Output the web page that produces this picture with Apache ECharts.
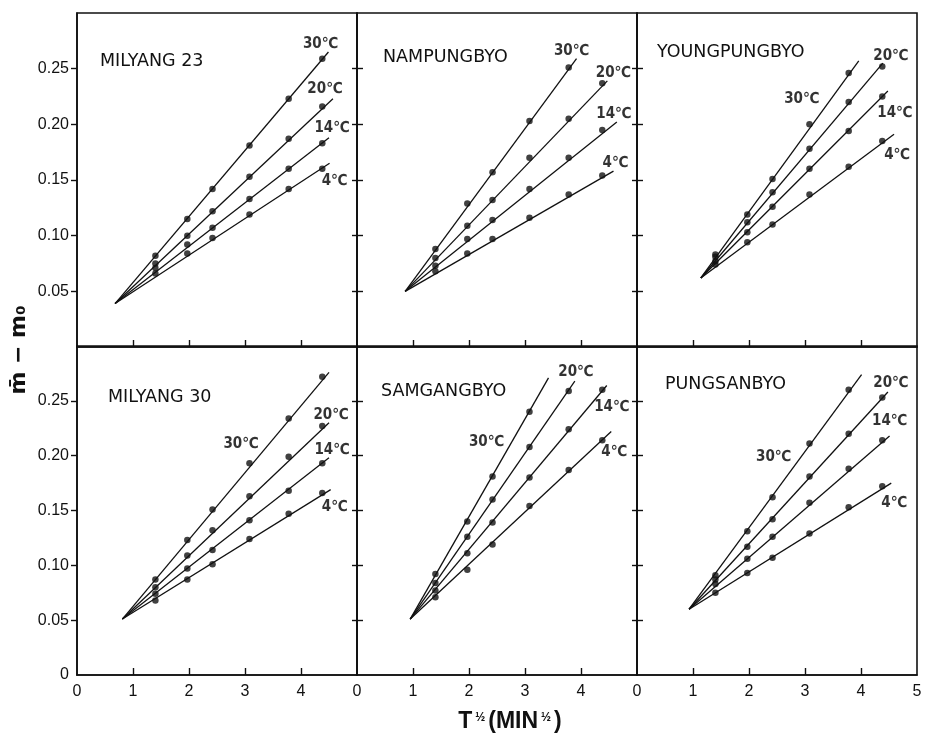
<!DOCTYPE html>
<html><head><meta charset="utf-8">
<script src="https://cdn.jsdelivr.net/npm/echarts@6/dist/echarts.min.js"></script>
<style>html,body{margin:0;padding:0;background:#fff}#c{width:926px;height:745px}</style>
</head><body><div id="c"></div>
<script>
// ---- data ----
const panelNames = ['MILYANG 23', 'NAMPUNGBYO', 'YOUNGPUNGBYO', 'MILYANG 30', 'SAMGANGBYO', 'PUNGSANBYO'];
const tempLabels = ['30℃', '20℃', '14℃', '4℃'];
const xPoints = [1.40, 1.97, 2.42, 3.08, 3.78, 4.38];          // T^1/2 (min^1/2)
const yTickValues = [0.05, 0.10, 0.15, 0.20, 0.25];
const xTickValues = [1, 2, 3, 4];
const xLabelValues = [0, 1, 2, 3, 4];
const xLabelValuesLast = [0, 1, 2, 3, 4, 5];

// convergence points of the fitted lines [x, y]
const milyang23Origin = [0.68, 0.039];
const nampungbyoOrigin = [0.86, 0.050];
const youngpungbyoOrigin = [1.14, 0.062];
const milyang30Origin = [0.81, 0.051];
const samgangbyoOrigin = [0.95, 0.051];
const pungsanbyoOrigin = [0.93, 0.060];

// measured points, rows: 30, 20, 14, 4 °C
const milyang23Y = [
  [0.082, 0.115, 0.142, 0.181, 0.223, 0.259],
  [0.075, 0.100, 0.122, 0.153, 0.187, 0.216],
  [0.071, 0.092, 0.107, 0.133, 0.160, 0.183],
  [0.066, 0.084, 0.098, 0.119, 0.142, 0.160]];
const nampungbyoY = [
  [0.088, 0.129, 0.157, 0.203, 0.251, null],
  [0.080, 0.109, 0.132, 0.170, 0.205, 0.237],
  [0.073, 0.097, 0.114, 0.142, 0.170, 0.195],
  [0.068, 0.084, 0.097, 0.116, 0.137, 0.154]];
const youngpungbyoY = [
  [0.083, 0.119, 0.151, 0.200, 0.246, null],
  [0.081, 0.112, 0.139, 0.178, 0.220, 0.252],
  [0.077, 0.103, 0.126, 0.160, 0.194, 0.225],
  [0.074, 0.094, 0.110, 0.137, 0.162, 0.185]];
const milyang30Y = [
  [0.087, 0.123, 0.151, 0.193, 0.234, 0.272],
  [0.080, 0.109, 0.132, 0.163, 0.199, 0.227],
  [0.074, 0.097, 0.114, 0.141, 0.168, 0.193],
  [0.068, 0.087, 0.101, 0.124, 0.147, 0.166]];
const samgangbyoY = [
  [0.092, 0.140, 0.181, 0.240, null, null],
  [0.084, 0.126, 0.160, 0.208, 0.259, null],
  [0.077, 0.111, 0.139, 0.180, 0.224, 0.260],
  [0.071, 0.096, 0.119, 0.154, 0.187, 0.214]];
const pungsanbyoY = [
  [0.091, 0.131, 0.162, 0.211, 0.260, null],
  [0.087, 0.117, 0.142, 0.181, 0.220, 0.253],
  [0.083, 0.106, 0.126, 0.157, 0.188, 0.214],
  [0.075, 0.093, 0.107, 0.129, 0.153, 0.172]];

// end points of the fitted lines [x, y]
const milyang23End = [[4.49, 0.265], [4.57, 0.223], [4.50, 0.188], [4.51, 0.165]];
const nampungbyoEnd = [[3.92, 0.259], [4.47, 0.239], [4.64, 0.202], [4.58, 0.158]];
const youngpungbyoEnd = [[3.96, 0.257], [4.39, 0.255], [4.48, 0.230], [4.59, 0.191]];
const milyang30End = [[4.50, 0.276], [4.50, 0.230], [4.50, 0.198], [4.53, 0.169]];
const samgangbyoEnd = [[3.42, 0.271], [3.89, 0.268], [4.46, 0.264], [4.54, 0.222]];
const pungsanbyoEnd = [[4.01, 0.274], [4.48, 0.258], [4.51, 0.218], [4.54, 0.175]];

// ---- layout / style ----
const origins = [milyang23Origin, nampungbyoOrigin, youngpungbyoOrigin, milyang30Origin, samgangbyoOrigin, pungsanbyoOrigin];
const pointsY = [milyang23Y, nampungbyoY, youngpungbyoY, milyang30Y, samgangbyoY, pungsanbyoY];
const ends = [milyang23End, nampungbyoEnd, youngpungbyoEnd, milyang30End, samgangbyoEnd, pungsanbyoEnd];

const gridPos = [
  {left: 77, top: 13, width: 280, height: 334},
  {left: 357, top: 13, width: 280, height: 334},
  {left: 637, top: 13, width: 280, height: 334},
  {left: 77, top: 346, width: 280, height: 329},
  {left: 357, top: 346, width: 280, height: 329},
  {left: 637, top: 346, width: 280, height: 329}];
const titlePos = [[100, 52], [383, 48], [657, 43], [108, 388], [381, 382], [665, 375]];
const labelOffsets = [
  [[-8, -8], [-8, -10], [3, -10], [5, 18]],
  [[-5, -8], [6, -8], [-3, -8], [2, -8]],
  [[-57, 38], [8, -7], [7, 22], [3, 21]],
  [[-88, 72], [2, -8], [3, -8], [4, 17]],
  [[-62, 64], [1, -9], [5, 22], [3, 21]],
  [[-88, 83], [3, -9], [0, -15], [3, 20]]];

const black = '#111';
const grids = [], xAxes = [], yAxes = [], series = [], titles = [];
for (let i = 0; i < 6; i++) {
  grids.push(Object.assign({show: true, borderColor: black, borderWidth: 1.6, backgroundColor: 'transparent'}, gridPos[i]));
  titles.push({text: panelNames[i], left: titlePos[i][0], top: titlePos[i][1], padding: 0,
    textStyle: {fontFamily: 'DejaVu Sans', fontSize: 17.5, fontWeight: 'normal', color: black}});
  const bottomRow = i >= 3;
  const leftCol = i % 3 === 0;
  xAxes.push({type: 'value', gridIndex: i, min: 0, max: 5, interval: 1,
    axisLine: {show: true, lineStyle: {color: black, width: 1.6}},
    axisTick: {show: true, inside: true, length: 7, customValues: xTickValues, lineStyle: {color: black, width: 1.4}},
    splitLine: {show: false},
    axisLabel: {show: bottomRow, customValues: i === 5 ? xLabelValuesLast : xLabelValues, margin: 9,
      fontFamily: 'Liberation Sans Narrow, Liberation Sans', fontSize: 16, color: black}});
  yAxes.push({type: 'value', gridIndex: i, min: 0, max: 0.30, interval: 0.05,
    axisLine: {show: true, lineStyle: {color: black, width: 1.6}},
    axisTick: {show: true, inside: !leftCol, length: 6, customValues: yTickValues, lineStyle: {color: black, width: 1.4}},
    splitLine: {show: false},
    axisLabel: {show: leftCol, customValues: bottomRow ? [0].concat(yTickValues) : yTickValues, margin: 8,
      formatter: v => (v === 0 ? '0' : v.toFixed(2)),
      fontFamily: 'Liberation Sans', fontSize: 16, color: black}});
  // cross ticks on shared right border
  if (i % 3 !== 2) {
    yAxes.push({type: 'value', gridIndex: i, min: 0, max: 0.30, interval: 0.05, position: 'right',
      axisLine: {show: false}, splitLine: {show: false}, axisLabel: {show: false},
      axisTick: {show: true, inside: true, length: 5, customValues: yTickValues, lineStyle: {color: black, width: 1.4}}});
  }
}
let yIdx = 0;
const yIndexOf = [];
for (let i = 0; i < 6; i++) { yIndexOf.push(yIdx); yIdx += (i % 3 !== 2) ? 2 : 1; }

for (let i = 0; i < 6; i++) {
  for (let k = 0; k < 4; k++) {
    series.push({type: 'line', xAxisIndex: i, yAxisIndex: yIndexOf[i], symbol: 'none', silent: true,
      lineStyle: {color: black, width: 1.3}, data: [origins[i], ends[i][k]], z: 2});
    const pts = [];
    xPoints.forEach((x, j) => { if (pointsY[i][k][j] != null) pts.push([x, pointsY[i][k][j]]); });
    series.push({type: 'scatter', xAxisIndex: i, yAxisIndex: yIndexOf[i], symbol: 'circle', symbolSize: 6.5,
      itemStyle: {color: black}, data: pts, z: 3});
    series.push({type: 'scatter', xAxisIndex: i, yAxisIndex: yIndexOf[i], symbolSize: 1,
      itemStyle: {color: 'rgba(0,0,0,0)'}, data: [ends[i][k]], z: 4,
      label: {show: true, position: 'inside', offset: labelOffsets[i][k], formatter: tempLabels[k],
        fontFamily: 'DejaVu Sans Condensed, DejaVu Sans', fontWeight: 'bold', fontSize: 15, color: '#000'}});
  }
}

const chart = echarts.init(document.getElementById('c'), null, {renderer: 'canvas'});
chart.setOption({
  animation: false,
  backgroundColor: '#fff',
  title: titles,
  grid: grids,
  xAxis: xAxes,
  yAxis: yAxes,
  series: series,
  graphic: [
    {type: 'text', x: 19, y: 350, rotation: Math.PI / 2,
      style: {text: 'm̄ − m₀', font: 'bold 22px DejaVu Sans', textAlign: 'center', textVerticalAlign: 'middle', fill: black}},
    {type: 'text', x: 510, y: 722,
      style: {text: '{t|T}{f|½}{t|(MIN}{f|½}{t|)}', textAlign: 'center', textVerticalAlign: 'middle', fill: black,
        rich: {t: {fontFamily: 'Liberation Sans', fontWeight: 'bold', fontSize: 23, fill: black},
               f: {fontFamily: 'Liberation Sans', fontWeight: 'bold', fontSize: 12, padding: [0, 3, 8, 3], fill: black}}}}
  ]
});
</script></body></html>
